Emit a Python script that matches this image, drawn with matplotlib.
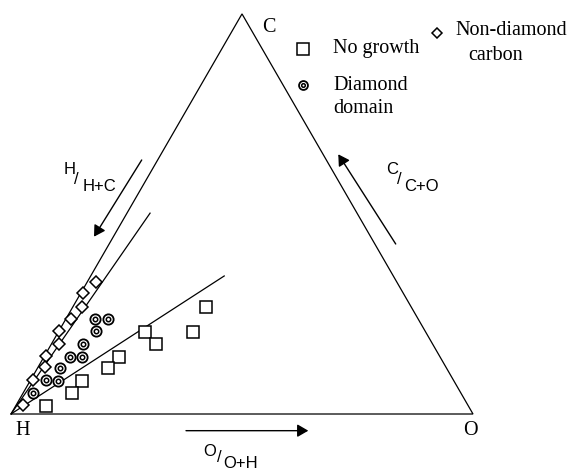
import numpy as np
import matplotlib
matplotlib.use("Agg")
import matplotlib.pyplot as plt

# gas compositions as atomic fractions of C and O (H is the remainder)
nogrowth_c = [0.267, 0.206, 0.206, 0.174, 0.143, 0.114, 0.083, 0.052, 0.021]
nogrowth_o = [0.288, 0.290, 0.186, 0.227, 0.163, 0.154, 0.113, 0.106, 0.065]

diamond_c = [0.237, 0.237, 0.207, 0.175, 0.143, 0.143, 0.116, 0.085, 0.083, 0.053]
diamond_o = [0.063, 0.091, 0.080, 0.069, 0.056, 0.083, 0.047, 0.033, 0.060, 0.022]

nondiamond_c = [0.329, 0.302, 0.267, 0.237, 0.207, 0.174, 0.145, 0.117, 0.085, 0.023]
nondiamond_o = [0.019, 0.004, 0.020, 0.011, 0.000, 0.017, 0.003, 0.015, 0.006, 0.014]

# ends of the two domain boundaries drawn from the H corner
boundary_c = [0.502, 0.345]
boundary_o = [0.050, 0.289]

SQ3 = np.sqrt(3) / 2


def tern(c, o):
    """C/O fractions -> x, y in a unit triangle with H at origin, O at (1, 0)."""
    c = np.asarray(c, dtype=float)
    o = np.asarray(o, dtype=float)
    return o + c / 2, c * SQ3


serif = ['Liberation Serif', 'DejaVu Serif']
sans = ['Liberation Sans', 'DejaVu Sans']

fig = plt.figure(figsize=(5.68, 4.73), dpi=100)
ax = fig.add_axes([0, 0, 1, 1])
ax.set_xlim(-0.0238, 1.2056)
ax.set_ylim(-0.1277, 0.8961)
ax.set_aspect('equal')
ax.axis('off')

# triangle
ax.plot([0, 1, 0.5, 0], [0, 0, SQ3, 0], color='k', lw=0.9,
        solid_joinstyle='miter', solid_capstyle='butt')

# boundaries
for c, o in zip(boundary_c, boundary_o):
    bx, by = tern([0, c], [0, o])
    ax.plot(bx, by, color='k', lw=0.9)

# data points
x, y = tern(nogrowth_c, nogrowth_o)
ax.plot(x, y, 's', ms=8.7, mfc='white', mec='k', mew=1.1, ls='none', zorder=3)

x, y = tern(diamond_c, diamond_o)
ax.plot(x, y, 'o', ms=7.4, mfc='white', mec='k', mew=1.3, ls='none', zorder=3)
ax.plot(x, y, 'o', ms=3.2, mfc='white', mec='k', mew=1.1, ls='none', zorder=4)

x, y = tern(nondiamond_c, nondiamond_o)
ax.plot(x, y, 'D', ms=6.0, mfc='white', mec='k', mew=1.1, ls='none', zorder=3)

# corner labels
ax.text(0.5578, 0.8275, 'C', fontsize=14.5, family=serif, ha='center', va='baseline')
ax.text(0.0253, -0.0455, 'H', fontsize=14.5, family=serif, ha='center', va='baseline')
ax.text(0.9935, -0.0455, 'O', fontsize=14.5, family=serif, ha='center', va='baseline')

# legend
ax.plot(0.6327, 0.7900, 's', ms=8.5, mfc='white', mec='k', mew=1.1)
ax.plot(0.6327, 0.7121, 'o', ms=6.4, mfc='white', mec='k', mew=1.3)
ax.plot(0.6327, 0.7121, 'o', ms=2.6, mfc='white', mec='k', mew=1.1)
ax.plot(0.9214, 0.8240, 'D', ms=5.6, mfc='white', mec='k', mew=1.1)
ax.text(0.6970, 0.7807, 'No growth', fontsize=14.5, family=serif, va='baseline')
ax.text(0.6970, 0.7013, 'Diamond', fontsize=14.5, family=serif, va='baseline')
ax.text(0.6970, 0.6515, 'domain', fontsize=14.5, family=serif, va='baseline')
ax.text(0.9610, 0.8203, 'Non-diamond', fontsize=14.5, family=serif, va='baseline')
ax.text(0.9892, 0.7662, 'carbon', fontsize=14.5, family=serif, va='baseline')

# ratio arrows
arrow = dict(arrowstyle='-|>,head_length=0.55,head_width=0.32', color='k',
             lw=1.0, mutation_scale=12, shrinkA=0, shrinkB=0)
ax.annotate('', xy=(0.1797, 0.3838), xytext=(0.2829, 0.5498), arrowprops=arrow)
ax.annotate('', xy=(0.7084, 0.5621), xytext=(0.8327, 0.3680), arrowprops=arrow)
ax.annotate('', xy=(0.6435, -0.0361), xytext=(0.3788, -0.0361), arrowprops=arrow)


def ratio_label(xs, ys, top, bottom):
    ax.text(xs[0], ys[0], top, fontsize=12, family=sans, ha='center', va='center')
    ax.text(xs[1], ys[1], '/', fontsize=12, family=sans, ha='center', va='center')
    ax.text(xs[2], ys[2], bottom, fontsize=12, family=sans, ha='center', va='center')


ratio_label([0.1277, 0.1422, 0.1905], [0.5303, 0.5065, 0.4935], 'H', 'H+C')
ratio_label([0.8247, 0.8409, 0.8874], [0.5303, 0.5065, 0.4924], 'C', 'C+O')
ratio_label([0.4307, 0.4502, 0.4968], [-0.0801, -0.0952, -0.1082], 'O', 'O+H')

fig.savefig('out.png', dpi=100)
